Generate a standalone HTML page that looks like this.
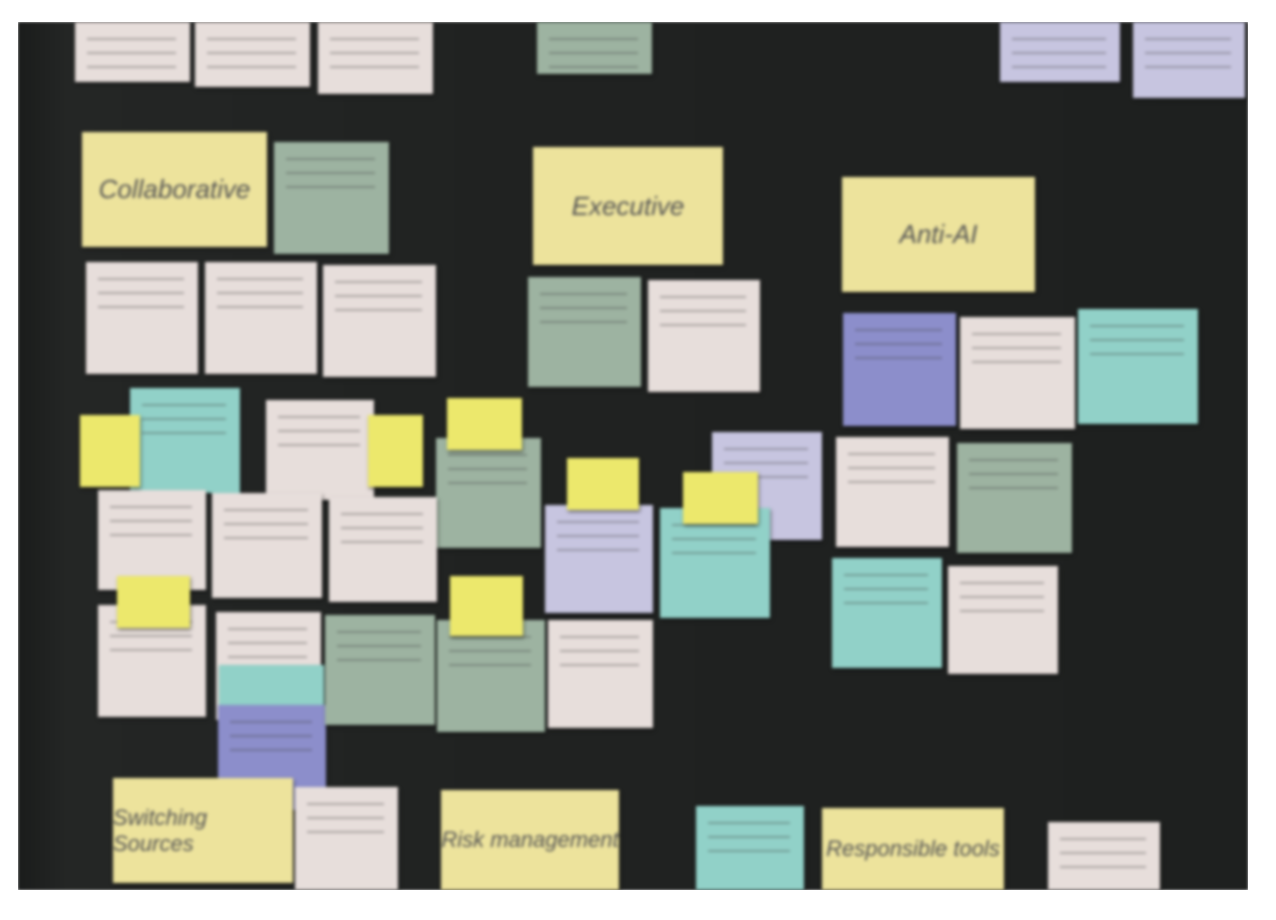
<!DOCTYPE html>
<html><head><meta charset="utf-8"><style>
html,body{margin:0;padding:0;background:#fff;width:1276px;height:920px;overflow:hidden}
#board{position:absolute;left:18px;top:22px;width:1230px;height:868px;
background:linear-gradient(90deg,#1a1c1b 0,#242625 4%,#202221 40%,#1e201f 100%);
box-shadow:0 0 4px rgba(0,0,0,.5);filter:blur(1.2px)}
.n{position:absolute;box-shadow:1px 2px 3px rgba(0,0,0,.5);font-family:"Liberation Sans",sans-serif;color:#333;overflow:hidden}
.p{background:#e7dedb}.y{background:#ede39c}.g{background:#9db3a1}.t{background:#91d1c8}
.u{background:#8c8ecb}.l{background:#c7c5e0}.b{background:#ece86c}
.h{font-size:26px;display:flex;align-items:center;justify-content:center;color:#555;font-style:italic}
.n.s::before{content:"";position:absolute;left:12px;right:14px;top:16px;height:40px;
background:repeating-linear-gradient(180deg,rgba(60,60,60,.35) 0 2px,transparent 2px 14px)}
</style></head><body>
<div id="board">
</div>
<div style="position:absolute;left:0;top:0;width:1276px;height:920px;filter:blur(1.5px)">
<div class="n p s" style="left:75px;top:22px;width:115px;height:60px"></div>
<div class="n p s" style="left:195px;top:22px;width:115px;height:65px"></div>
<div class="n p s" style="left:318px;top:22px;width:115px;height:72px"></div>
<div class="n g s" style="left:537px;top:22px;width:115px;height:52px"></div>
<div class="n l s" style="left:1000px;top:22px;width:120px;height:60px"></div>
<div class="n l s" style="left:1133px;top:22px;width:112px;height:76px"></div>

<div class="n y h" style="left:82px;top:132px;width:185px;height:115px">Collaborative</div>
<div class="n g s" style="left:274px;top:142px;width:115px;height:112px"></div>
<div class="n y h" style="left:533px;top:147px;width:190px;height:118px">Executive</div>
<div class="n y h" style="left:842px;top:177px;width:193px;height:115px">Anti-AI</div>

<div class="n p s" style="left:86px;top:262px;width:112px;height:112px"></div>
<div class="n p s" style="left:205px;top:262px;width:112px;height:112px"></div>
<div class="n p s" style="left:323px;top:265px;width:113px;height:112px"></div>
<div class="n g s" style="left:528px;top:277px;width:113px;height:110px"></div>
<div class="n p s" style="left:648px;top:280px;width:112px;height:112px"></div>
<div class="n u s" style="left:843px;top:313px;width:113px;height:113px"></div>
<div class="n p s" style="left:960px;top:317px;width:115px;height:112px"></div>
<div class="n t s" style="left:1078px;top:309px;width:120px;height:115px"></div>

<div class="n t s" style="left:130px;top:388px;width:110px;height:105px"></div>
<div class="n p s" style="left:266px;top:400px;width:108px;height:100px"></div>
<div class="n g s" style="left:436px;top:438px;width:105px;height:110px"></div>
<div class="n l s" style="left:712px;top:432px;width:110px;height:108px"></div>
<div class="n p s" style="left:836px;top:437px;width:113px;height:110px"></div>
<div class="n g s" style="left:957px;top:443px;width:115px;height:110px"></div>

<div class="n p s" style="left:98px;top:490px;width:108px;height:100px"></div>
<div class="n p s" style="left:212px;top:493px;width:110px;height:105px"></div>
<div class="n p s" style="left:329px;top:497px;width:108px;height:105px"></div>
<div class="n l s" style="left:545px;top:505px;width:108px;height:108px"></div>
<div class="n t s" style="left:660px;top:508px;width:110px;height:110px"></div>
<div class="n t s" style="left:832px;top:558px;width:110px;height:110px"></div>
<div class="n p s" style="left:948px;top:566px;width:110px;height:108px"></div>

<div class="n p s" style="left:98px;top:605px;width:108px;height:112px"></div>
<div class="n p s" style="left:216px;top:612px;width:105px;height:108px"></div>
<div class="n t" style="left:219px;top:665px;width:105px;height:45px"></div>
<div class="n u s" style="left:218px;top:705px;width:108px;height:105px"></div>
<div class="n g s" style="left:325px;top:615px;width:110px;height:110px"></div>
<div class="n g s" style="left:437px;top:620px;width:108px;height:112px"></div>
<div class="n p s" style="left:548px;top:620px;width:105px;height:108px"></div>

<div class="n b" style="left:80px;top:415px;width:60px;height:72px"></div>
<div class="n b" style="left:368px;top:415px;width:55px;height:72px"></div>
<div class="n b" style="left:447px;top:398px;width:75px;height:52px"></div>
<div class="n b" style="left:567px;top:458px;width:72px;height:52px"></div>
<div class="n b" style="left:683px;top:472px;width:75px;height:52px"></div>
<div class="n b" style="left:117px;top:576px;width:73px;height:52px"></div>
<div class="n b" style="left:450px;top:576px;width:73px;height:60px"></div>

<div class="n y h" style="left:113px;top:778px;width:180px;height:105px;font-size:22px">Switching Sources</div>
<div class="n p s" style="left:295px;top:787px;width:103px;height:103px"></div>
<div class="n y h" style="left:441px;top:790px;width:178px;height:100px;font-size:22px">Risk management</div>
<div class="n t s" style="left:696px;top:806px;width:108px;height:84px"></div>
<div class="n y h" style="left:822px;top:808px;width:182px;height:82px;font-size:22px">Responsible tools</div>
<div class="n p s" style="left:1048px;top:822px;width:112px;height:68px"></div>
</div>
<div style="position:absolute;left:0;top:0;width:1276px;height:22px;background:#fff"></div>
<div style="position:absolute;left:0;top:890px;width:1276px;height:30px;background:#fff"></div>
<div style="position:absolute;left:0;top:0;width:18px;height:920px;background:#fff"></div>
<div style="position:absolute;left:1248px;top:0;width:28px;height:920px;background:#fff"></div>
</body></html>
